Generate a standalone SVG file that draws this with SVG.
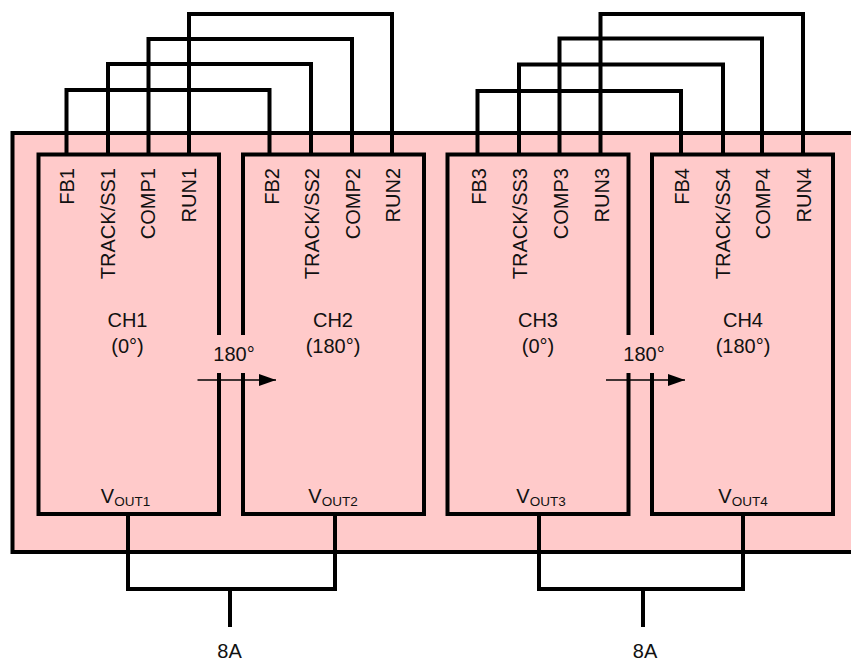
<svg xmlns="http://www.w3.org/2000/svg" width="851" height="660" viewBox="0 0 851 660">
<style>
.b{fill:#ffcaca;stroke:#000;stroke-width:4;stroke-linejoin:miter}
.c{fill:none;stroke:#000;stroke-width:4}
.t{font-family:"Liberation Sans",Arial,sans-serif;font-size:20px;fill:#111}
.m{text-anchor:middle}
.s{font-size:13.5px}
.e{text-anchor:end}
.g{fill:#ffcaca;stroke:none}
.a{fill:none;stroke:#000;stroke-width:1.5}
</style>
<defs>
<marker id="ah" markerUnits="userSpaceOnUse" markerWidth="18" markerHeight="14" refX="17" refY="7" orient="auto"><path d="M0 1L17 7L0 13Z" fill="#000"/></marker>
</defs>
<rect id="board" class="b" x="12.5" y="133" width="845" height="419"/>
<g id="ch1"><rect class="b" x="38.5" y="154.5" width="180.5" height="359.5"/>
<text class="t m" x="127.5" y="327">CH1</text><text class="t m" x="127.5" y="353">(0°)</text>
<text class="t m" x="125.5" y="503">V<tspan class="s" dy="3">OUT1</tspan></text>
<text class="t e" transform="translate(73.500,168) rotate(-90)">FB1</text>
<text class="t e" transform="translate(114.500,168) rotate(-90)">TRACK/SS1</text>
<text class="t e" transform="translate(155,168) rotate(-90)">COMP1</text>
<text class="t e" transform="translate(195.500,168) rotate(-90)">RUN1</text></g>
<g id="ch2"><rect class="b" x="243" y="154.5" width="181" height="359.500"/>
<text class="t m" x="333" y="327">CH2</text><text class="t m" x="333" y="353">(180°)</text>
<text class="t m" x="333" y="503">V<tspan class="s" dy="3">OUT2</tspan></text>
<text class="t e" transform="translate(279,168) rotate(-90)">FB2</text>
<text class="t e" transform="translate(319,168) rotate(-90)">TRACK/SS2</text>
<text class="t e" transform="translate(359.500,168) rotate(-90)">COMP2</text>
<text class="t e" transform="translate(400,168) rotate(-90)">RUN2</text></g>
<g id="ch3"><rect class="b" x="447.500" y="154.5" width="181" height="359.500"/>
<text class="t m" x="538" y="327">CH3</text><text class="t m" x="538" y="353">(0°)</text>
<text class="t m" x="541" y="503">V<tspan class="s" dy="3">OUT3</tspan></text>
<text class="t e" transform="translate(486,168) rotate(-90)">FB3</text>
<text class="t e" transform="translate(527,168) rotate(-90)">TRACK/SS3</text>
<text class="t e" transform="translate(567.500,168) rotate(-90)">COMP3</text>
<text class="t e" transform="translate(609,168) rotate(-90)">RUN3</text></g>
<g id="ch4"><rect class="b" x="652" y="154.5" width="181" height="359.500"/>
<text class="t m" x="743" y="327">CH4</text><text class="t m" x="743" y="353">(180°)</text>
<text class="t m" x="743" y="503">V<tspan class="s" dy="3">OUT4</tspan></text>
<text class="t e" transform="translate(689,168) rotate(-90)">FB4</text>
<text class="t e" transform="translate(729.500,168) rotate(-90)">TRACK/SS4</text>
<text class="t e" transform="translate(770,168) rotate(-90)">COMP4</text>
<text class="t e" transform="translate(811,168) rotate(-90)">RUN4</text></g>
<g id="connectors">
<path class="c" d="M66.500 154V90H269.500V154"/>
<path class="c" d="M108 154V64H311V154"/>
<path class="c" d="M148.500 154V39H352V154"/>
<path class="c" d="M189 154V14H392V154"/>
<path class="c" d="M477.500 154V91H681V154"/>
<path class="c" d="M519 154V64.500H723V154"/>
<path class="c" d="M559.500 154V38.500H762V154"/>
<path class="c" d="M600.500 154V14H803V154"/>
<path class="c" d="M128 514V589H335V514"/>
<path class="c" d="M230 589V627"/>
<path class="c" d="M539 514V589H743V514"/>
<path class="c" d="M643 589V627"/>
<rect class="g" x="212" y="335" width="36" height="38"/>
<rect class="g" x="622" y="335" width="36" height="38"/>
<path class="a" d="M197.500 380H276" marker-end="url(#ah)"/>
<path class="a" d="M606 380H685" marker-end="url(#ah)"/>
</g>
<g id="phase-labels">
<text class="t m" x="234" y="361">180°</text>
<text class="t m" x="644" y="361">180°</text>
</g>
<g id="current-labels">
<text class="t m" x="229.500" y="658">8A</text>
<text class="t m" x="645" y="658">8A</text>
</g>
</svg>
